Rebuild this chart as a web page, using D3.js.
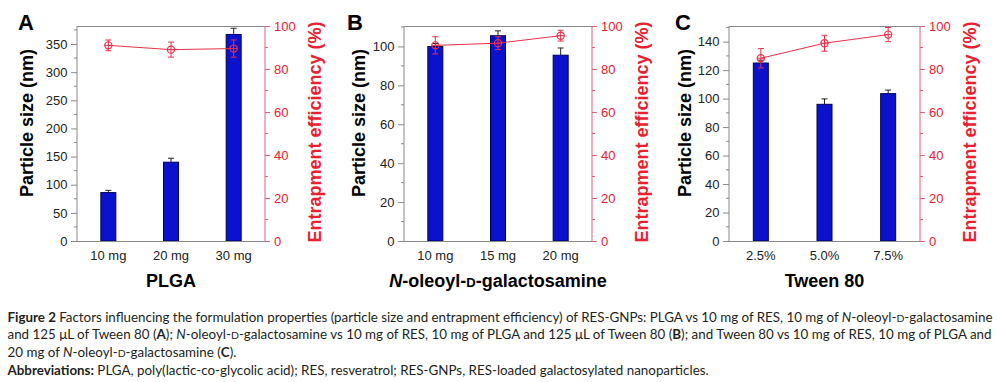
<!DOCTYPE html>
<html>
<head>
<meta charset="utf-8">
<script src="https://cdn.jsdelivr.net/npm/d3@7"></script>
<style>
  body { margin: 0; background: #fff; }
  svg { display: block; }
</style>
</head>
<body>
<svg id="chart" width="1000" height="382"></svg>
<script>
// panel A - PLGA
const catA = ["10 mg", "20 mg", "30 mg"];
const sizeA = [86, 140, 367];
const sizeErrA = [4, 7, 11];
const eeA = [91, 89, 89.5];
const eeErrA = [2.5, 3.5, 4];

// panel B - N-oleoyl-D-galactosamine
const catB = ["10 mg", "15 mg", "20 mg"];
const sizeB = [100, 105.5, 95.5];
const sizeErrB = [1.5, 2.5, 3.7];
const eeB = [91, 92, 95.5];
const eeErrB = [4, 3, 2.5];

// panel C - Tween 80
const catC = ["2.5%", "5.0%", "7.5%"];
const sizeC = [125, 96, 103.5];
const sizeErrC = [2, 3.8, 2.5];
const eeC = [85, 92, 96];
const eeErrC = [4.5, 3.7, 3.3];

const leftTicksA = [0, 50, 100, 150, 200, 250, 300, 350];
const leftTicksB = [0, 20, 40, 60, 80, 100];
const leftTicksC = [0, 20, 40, 60, 80, 100, 120, 140];
const rightTicks = [0, 20, 40, 60, 80, 100];

const svg = d3.select("#chart");
const TOP = 26, BOTTOM = 241;
const RED = "#e8202f", RED_AXIS = "#e0607a", GRAY = "#8a8a8a";

function drawPanel(p) {
  const g = svg.append("g");
  const x = d3.scalePoint().domain(p.cats).range([p.x0, p.x1]).padding(0.5);
  const y = d3.scaleLinear().domain([0, p.ymax]).range([BOTTOM, TOP]);
  const y2 = d3.scaleLinear().domain([0, 100]).range([BOTTOM, TOP]);

  // frame: top gray
  g.append("line").attr("x1", p.x0).attr("x2", p.x1).attr("y1", TOP + 0.5).attr("y2", TOP + 0.5)
    .attr("stroke", GRAY);

  // bars
  const bw = 15;
  g.selectAll(".bar").data(p.size).join("rect")
    .attr("x", (d, i) => x(p.cats[i]) - bw / 2)
    .attr("y", d => y(d))
    .attr("width", bw)
    .attr("height", d => BOTTOM - y(d))
    .attr("fill", "#0a12cc")
    .attr("stroke", "#00005a")
    .attr("stroke-width", 1);

  // bar error bars (upper only)
  p.size.forEach((d, i) => {
    const cx = x(p.cats[i]);
    g.append("line").attr("x1", cx).attr("x2", cx).attr("y1", y(d)).attr("y2", y(d + p.sizeErr[i]))
      .attr("stroke", "#222").attr("stroke-width", 1);
    g.append("line").attr("x1", cx - 3).attr("x2", cx + 3).attr("y1", y(d + p.sizeErr[i])).attr("y2", y(d + p.sizeErr[i]))
      .attr("stroke", "#222").attr("stroke-width", 1);
  });

  // left axis
  const la = g.append("g").attr("transform", `translate(${p.x0},0)`)
    .call(d3.axisLeft(y).tickValues(p.lticks).tickSize(6).tickPadding(3.5));
  la.select(".domain").attr("stroke", GRAY).attr("d", `M0,${TOP}V${BOTTOM}`);
  la.selectAll(".tick line").attr("stroke", GRAY);
  la.selectAll(".tick text").attr("fill", "#222").style("font", "13px 'Liberation Sans', Arial, sans-serif");
  const lminor = d3.range(p.lminor, p.ymax, p.lminor * 2);
  g.selectAll(".lminor").data(lminor).join("line")
    .attr("x1", p.x0 - 3).attr("x2", p.x0).attr("y1", d => y(d)).attr("y2", d => y(d))
    .attr("stroke", GRAY);

  // bottom axis
  g.append("line").attr("x1", p.x0).attr("x2", p.x1).attr("y1", BOTTOM + 0.5).attr("y2", BOTTOM + 0.5)
    .attr("stroke", GRAY);
  g.selectAll(".xt").data(p.cats).join("text")
    .attr("x", d => x(d)).attr("y", 260)
    .attr("text-anchor", "middle")
    .attr("fill", "#222")
    .style("font", "13px 'Liberation Sans', Arial, sans-serif")
    .text(d => d);

  // right axis
  const ra = g.append("g").attr("transform", `translate(${p.x1},0)`)
    .call(d3.axisRight(y2).tickValues(rightTicks).tickSize(5).tickPadding(4));
  ra.select(".domain").attr("stroke", RED_AXIS).attr("d", `M0,${TOP}V${BOTTOM}`);
  ra.selectAll(".tick line").attr("stroke", RED_AXIS);
  ra.selectAll(".tick text").attr("fill", RED).style("font", "13px 'Liberation Sans', Arial, sans-serif");
  g.selectAll(".rminor").data([10, 30, 50, 70, 90]).join("line")
    .attr("x1", p.x1).attr("x2", p.x1 + 3).attr("y1", d => y2(d)).attr("y2", d => y2(d))
    .attr("stroke", RED_AXIS);

  // entrapment efficiency line
  const line = d3.line().x((d, i) => x(p.cats[i])).y(d => y2(d));
  g.append("path").datum(p.ee).attr("d", line)
    .attr("fill", "none").attr("stroke", "#e8304a").attr("stroke-width", 1);
  p.ee.forEach((d, i) => {
    const cx = x(p.cats[i]), cy = y2(d);
    const lo = y2(d - p.eeErr[i]), hi = y2(d + p.eeErr[i]);
    const s = "#e8304a";
    g.append("line").attr("x1", cx).attr("x2", cx).attr("y1", lo).attr("y2", hi).attr("stroke", s);
    g.append("line").attr("x1", cx - 3).attr("x2", cx + 3).attr("y1", lo).attr("y2", lo).attr("stroke", s);
    g.append("line").attr("x1", cx - 3).attr("x2", cx + 3).attr("y1", hi).attr("y2", hi).attr("stroke", s);
    g.append("circle").attr("cx", cx).attr("cy", cy).attr("r", 3.6)
      .attr("fill", "none").attr("stroke", s).attr("stroke-width", 1.2);
    g.append("line").attr("x1", cx - 3.6).attr("x2", cx + 3.6).attr("y1", cy).attr("y2", cy).attr("stroke", s);
  });

  // axis titles
  g.append("text")
    .attr("transform", `translate(${p.x0 - p.lt},123) rotate(-90)`)
    .attr("text-anchor", "middle")
    .attr("fill", "#000")
    .style("font", "bold 18px 'Liberation Sans', Arial, sans-serif")
    .text("Particle size (nm)");
  g.append("text")
    .attr("transform", `translate(${p.x1 + 56},132) rotate(-90)`)
    .attr("text-anchor", "middle")
    .attr("fill", RED)
    .style("font", "bold 18px 'Liberation Sans', Arial, sans-serif")
    .text("Entrapment efficiency (%)");

  const xt = g.append("text")
    .attr("x", (p.x0 + p.x1) / 2).attr("y", 287)
    .attr("text-anchor", "middle")
    .attr("fill", "#000")
    .style("font", "bold 18px 'Liberation Sans', Arial, sans-serif");
  p.xtitle.forEach(s => {
    const t = xt.append("tspan").text(s.t);
    if (s.i) t.style("font-style", "italic");
    if (s.sc) t.style("font-size", "13px");
  });

  // panel letter
  g.append("text").attr("x", p.lx).attr("y", 30)
    .style("font", "bold 22px 'Liberation Sans', Arial, sans-serif")
    .text(p.letter);
}

drawPanel({ cats: catA, size: sizeA, sizeErr: sizeErrA, ee: eeA, eeErr: eeErrA,
  x0: 77, x1: 265, ymax: 382, lticks: leftTicksA, lminor: 25, lt: 44,
  xtitle: [{ t: "PLGA" }], letter: "A", lx: 18 });
drawPanel({ cats: catB, size: sizeB, sizeErr: sizeErrB, ee: eeB, eeErr: eeErrB,
  x0: 404, x1: 592, ymax: 110.5, lticks: leftTicksB, lminor: 10, lt: 39,
  xtitle: [{ t: "N", i: true }, { t: "-oleoyl-" }, { t: "D", sc: true }, { t: "-galactosamine" }], letter: "B", lx: 347 });
drawPanel({ cats: catC, size: sizeC, sizeErr: sizeErrC, ee: eeC, eeErr: eeErrC,
  x0: 729, x1: 920, ymax: 151, lticks: leftTicksC, lminor: 10, lt: 38.5,
  xtitle: [{ t: "Tween 80" }], letter: "C", lx: 675 });

// caption
const capLines = [
  { y: 321.5, just: 985, segs: [{ t: "Figure 2", b: true }, { t: " Factors influencing the formulation properties (particle size and entrapment efficiency) of RES-GNPs: PLGA vs 10 mg of RES, 10 mg of " }, { t: "N", i: true }, { t: "-oleoyl-" }, { t: "D", sc: true }, { t: "-galactosamine" }] },
  { y: 339.3, just: 984, segs: [{ t: "and 125 μL of Tween 80 (" }, { t: "A", b: true }, { t: "); " }, { t: "N", i: true }, { t: "-oleoyl-" }, { t: "D", sc: true }, { t: "-galactosamine vs 10 mg of RES, 10 mg of PLGA and 125 μL of Tween 80 (" }, { t: "B", b: true }, { t: "); and Tween 80 vs 10 mg of RES, 10 mg of PLGA and" }] },
  { y: 357.3, segs: [{ t: "20 mg of " }, { t: "N", i: true }, { t: "-oleoyl-" }, { t: "D", sc: true }, { t: "-galactosamine (" }, { t: "C", b: true }, { t: ")." }] },
  { y: 375, segs: [{ t: "Abbreviations:", b: true }, { t: " PLGA, poly(lactic-co-glycolic acid); RES, resveratrol; RES-GNPs, RES-loaded galactosylated nanoparticles." }] }
];

let capSize = 13.5;
function drawCaption(fs) {
  svg.selectAll(".cap").remove();
  return capLines.map(L => {
    const t = svg.append("text").attr("class", "cap")
      .attr("x", 7.5).attr("y", L.y)
      .attr("fill", "#231f20")
      .style("font-family", "Lato, 'Open Sans', sans-serif")
      .style("font-size", fs + "px");
    L.segs.forEach(s => {
      const sp = t.append("tspan").text(s.t);
      if (s.b) sp.style("font-weight", "bold");
      if (s.i) sp.style("font-style", "italic");
      if (s.sc) sp.style("font-size", (fs * 0.78) + "px");
    });
    return t;
  });
}
let caps = drawCaption(capSize);
// fit the last line to its width in the reference
const w4 = caps[3].node().getComputedTextLength();
capSize = capSize * 702 / w4;
caps = drawCaption(capSize);
// justify the first two lines
capLines.forEach((L, k) => {
  if (!L.just) return;
  const node = caps[k].node();
  const w = node.getComputedTextLength();
  const spaces = L.segs.map(s => s.t).join("").split(" ").length - 1;
  caps[k].style("word-spacing", ((L.just - w) / spaces) + "px");
});
</script>
</body>
</html>
